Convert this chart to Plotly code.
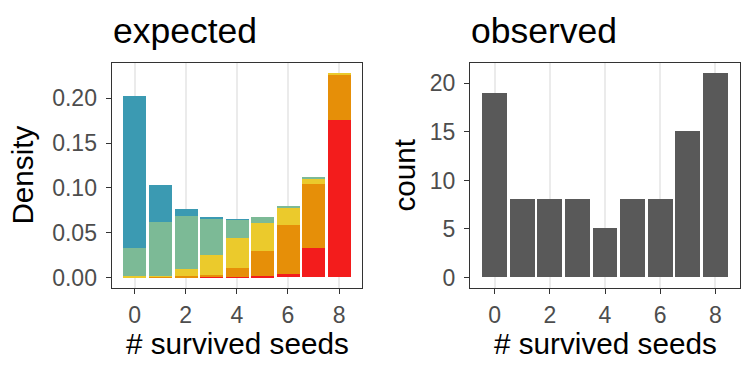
import plotly.graph_objects as go

seeds = [0, 1, 2, 3, 4, 5, 6, 7, 8]
# expected density components (stacked bottom -> top)
comp_red = [0.0, 0.0, 0.0, 0.0001, 0.0003, 0.0010, 0.0033, 0.0320, 0.1757]
comp_orange = [0.0, 0.0002, 0.0008, 0.0022, 0.0096, 0.0277, 0.0553, 0.0719, 0.0508]
comp_yellow = [0.0015, 0.0012, 0.0080, 0.0220, 0.0332, 0.0321, 0.0187, 0.0066, 0.0011]
comp_green = [0.0305, 0.0605, 0.0597, 0.0409, 0.0210, 0.0066, 0.0023, 0.0002, 0.0]
comp_blue = [0.1700, 0.0409, 0.0077, 0.0011, 0.0001, 0.0, 0.0, 0.0, 0.0]
observed = [19, 8, 8, 8, 5, 8, 8, 15, 21]

density_ticks = [0.0, 0.05, 0.10, 0.15, 0.20]
count_ticks = [0, 5, 10, 15, 20]
x_ticks = [0, 2, 4, 6, 8]

W, H = 756, 378
FONT = "Liberation Sans, Arial, Helvetica, sans-serif"

def px_x(p):
    return p / W

def px_y(p):
    return 1 - p / H

fig = go.Figure()
comps = [
    (comp_red, "#F31C1C"),
    (comp_orange, "#E68F08"),
    (comp_yellow, "#EBCA2C"),
    (comp_green, "#7CBA96"),
    (comp_blue, "#3B9AB2"),
]
for vals, col in comps:
    fig.add_trace(go.Bar(x=seeds, y=vals, width=0.9, marker=dict(color=col, line=dict(width=0)),
                         xaxis="x", yaxis="y", showlegend=False))
fig.add_trace(go.Bar(x=seeds, y=observed, width=0.9, marker=dict(color="#595959", line=dict(width=0)),
                     xaxis="x2", yaxis="y2", showlegend=False))

tot = [sum(v) for v in zip(comp_red, comp_orange, comp_yellow, comp_green, comp_blue)]
ymax1 = max(tot)
ymax2 = max(observed)

axis_common = dict(
    showline=True, mirror=True, linecolor="#333333", linewidth=1.3,
    ticks="outside", ticklen=5, tickwidth=1.3, tickcolor="#333333",
    tickfont=dict(family=FONT, size=23, color="#4D4D4D"),
    zeroline=False,
)

fig.update_layout(
    width=W, height=H,
    margin=dict(l=0, r=0, t=0, b=0),
    paper_bgcolor="white", plot_bgcolor="white",
    barmode="stack", bargap=0,
    xaxis=dict(domain=[px_x(111.7), px_x(362)], range=[-0.895, 8.895], anchor="y",
               tickvals=x_ticks, showgrid=True, gridcolor="#EBEBEB", gridwidth=1.8,
               ticklabelstandoff=2, **axis_common),
    yaxis=dict(domain=[px_y(290), px_y(64)], range=[-0.05 * ymax1, 1.05 * ymax1], anchor="x",
               tickvals=density_ticks, tickformat=".2f", showgrid=False,
               ticklabelstandoff=4, **axis_common),
    xaxis2=dict(domain=[px_x(470), px_x(740)], range=[-0.895, 8.895], anchor="y2",
                tickvals=x_ticks, showgrid=True, gridcolor="#EBEBEB", gridwidth=1.8,
                ticklabelstandoff=2, **axis_common),
    yaxis2=dict(domain=[px_y(290), px_y(64)], range=[-0.05 * ymax2, 1.05 * ymax2], anchor="x2",
                tickvals=count_ticks, showgrid=False, ticklabelstandoff=4, **axis_common),
    font=dict(family=FONT),
)

ann = []
def add_text(text, x, y, size, xanchor="center", textangle=0):
    ann.append(dict(text=text, x=px_x(x), y=px_y(y), xref="paper", yref="paper",
                    xanchor=xanchor, yanchor="middle", showarrow=False, textangle=textangle,
                    font=dict(family=FONT, size=size, color="black")))

add_text("expected", 110.5, 31, 35.5, xanchor="left")
add_text("observed", 468.5, 31, 35.5, xanchor="left")
add_text("# survived seeds", 237, 346.5, 29.7)
add_text("# survived seeds", 605, 346.5, 29.7)
add_text("Density", 23, 177, 29.7, textangle=-90)
add_text("count", 405, 177, 29.7, textangle=-90)
fig.update_layout(annotations=ann)

fig.write_html("out.html", post_script="document.body.style.margin='0';",
               config={"displayModeBar": False})
